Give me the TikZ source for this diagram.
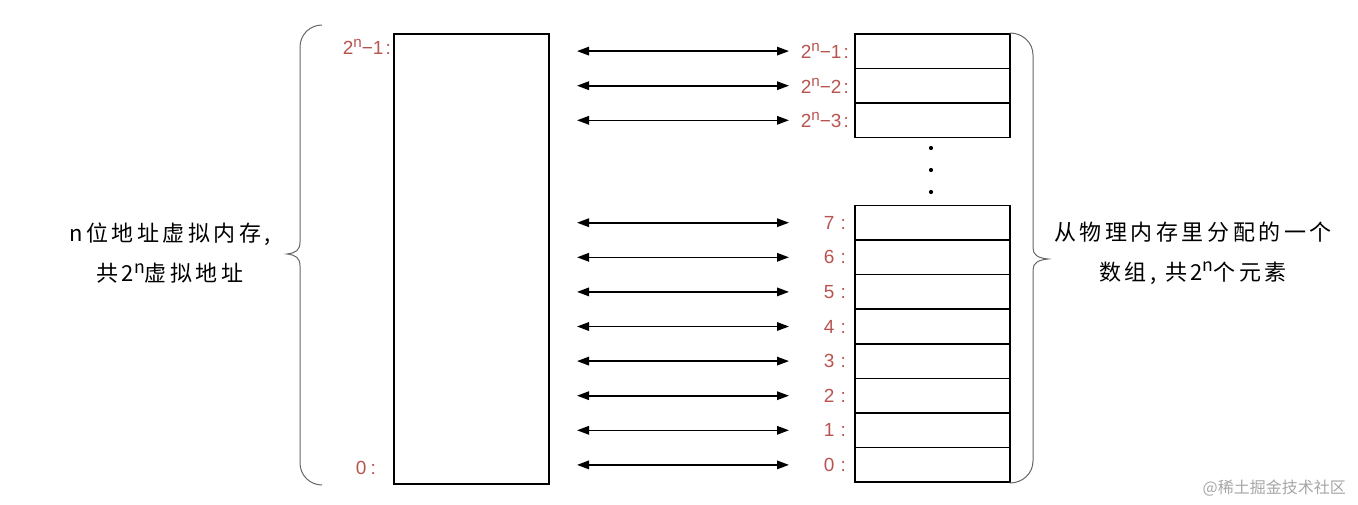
\documentclass[tikz,border=0pt]{standalone}
\usepackage{fontspec}
\setmainfont{Liberation Sans}
\newfontfamily\cjk{Noto Sans CJK SC}[LetterSpace=16]
\newfontfamily\cjkmark{Noto Sans CJK SC}
\usetikzlibrary{arrows.meta}
\definecolor{addrred}{HTML}{B85450}
\newcommand{\powN}{\raisebox{0.38em}{\scalebox{0.8}{n}}}

\begin{document}
\begin{tikzpicture}[x=1pt, y=-1pt, every node/.style={inner sep=0pt}, >={Triangle[length=12pt,width=8.5pt]},
	cell/.style={draw, line width=1.6pt, minimum width=155pt, minimum height=34.6pt},
	addr/.style={text=addrred, font=\fontsize{19}{22}\selectfont, anchor=east},
	brace/.style={draw=black!60, line width=1pt},
	note/.style={font=\cjk\fontsize{22}{40}\selectfont, align=center}]
	\useasboundingbox (0,0) rectangle (1358,504);
	\node[cell, minimum height=450pt, anchor=north west] (vmem) at (393,33) {};
	\node[addr] (vtop) at (391,47) {2\powN−1\hspace{2pt}:};
	\node[addr] (vbot) at (376,468) {0\hspace{4pt}:};
	\foreach \i in {1,2,3} {
		\node[cell, anchor=north west] (top\i) at (854,{33+(\i-1)*34.6}) {};
		\node[addr] (ltop\i) at ([xshift=-5pt]top\i.west) {2\powN−\i\hspace{2pt}:};
	}
	\foreach \i in {0,...,7} {
		\node[cell, anchor=south west] (c\i) at (854,{483-\i*34.6}) {};
		\node[addr] (l\i) at ([xshift=-8pt]c\i.west) {\i\hspace{6pt}:};
	}
	\coordinate (lx) at (577,0);
	\coordinate (rx) at (789,0);
	\foreach \n in {top1,top2,top3,c7,c6,c5,c4,c3,c2,c1,c0} {
		\draw[<->, line width=1.6pt] (\n.center -| lx) -- (\n.center -| rx);
	}
	\foreach \y in {148,170,192} {
		\fill (931,\y) circle (2.1pt);
	}
	\draw[brace] (322,25) to[out=180, in=90] (300,47) -- (300,242)
		.. controls (300,250) and (296,253) .. (287,254)
		.. controls (296,255) and (300,258) .. (300,266) -- (300,463)
		to[out=-90, in=180] (322,485);
	\draw[brace] (1010,33) to[out=0, in=90] (1033,55) -- (1033,248)
		.. controls (1033,255) and (1038,258) .. (1048,259)
		.. controls (1038,260) and (1033,263) .. (1033,270) -- (1033,461)
		to[out=-90, in=0] (1010,483);
	\node[note] (vnote) at (170,253) {n位地址虚拟内存,\\共2\powN 虚拟地址};
	\node[note] (pnote) at (1193,253) {从物理内存里分配的一个\\数组, 共2\powN 个元素};
	\node[text=black!35, font=\cjkmark\fontsize{16}{18}\selectfont, anchor=east] (mark) at (1346,488) {@稀土掘金技术社区};
\end{tikzpicture}
\end{document}
